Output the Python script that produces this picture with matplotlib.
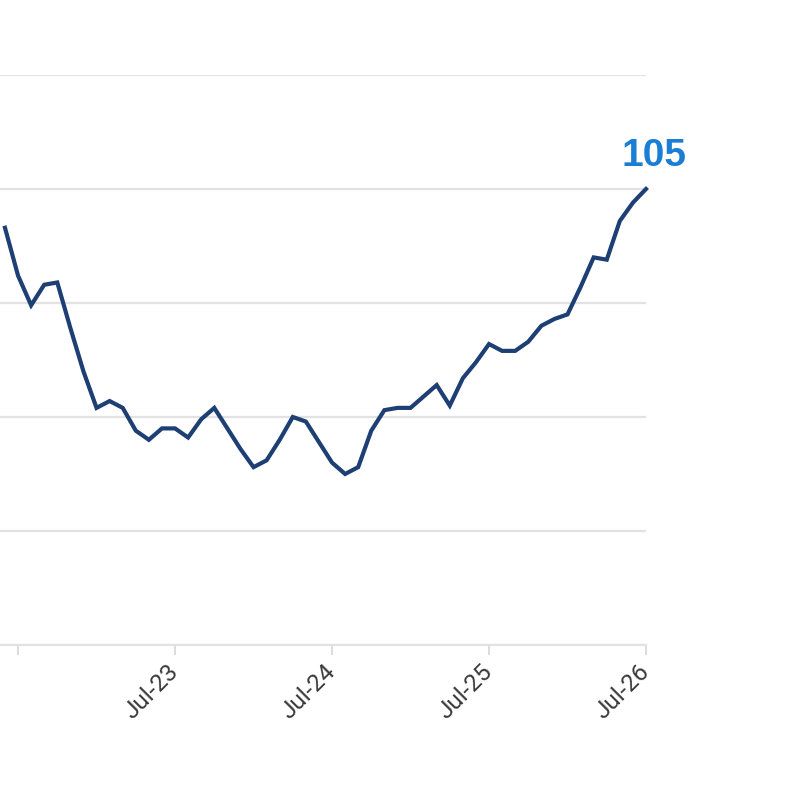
import numpy as np
import matplotlib
matplotlib.use("Agg")
import matplotlib.pyplot as plt

# monthly index values, Jun-22 .. Jul-26
values = [103.3, 101.2, 99.9, 100.8, 100.9, 98.9, 97.0, 95.4, 95.7, 95.4,
          94.4, 94.0, 94.5, 94.5, 94.1, 94.9, 95.4, 94.5, 93.6, 92.8,
          93.1, 94.0, 95.0, 94.8, 93.9, 93.0, 92.5, 92.8, 94.4, 95.3,
          95.4, 95.4, 95.9, 96.4, 95.5, 96.7, 97.4, 98.2, 97.9, 97.9,
          98.3, 99.0, 99.3, 99.5, 100.7, 102.0, 101.9, 103.6, 104.4, 105.0]
tick_pos = [1, 13, 25, 37, 49]
tick_labels = ["", "Jul-23", "Jul-24", "Jul-25", "Jul-26"]
grid_vals = [85, 90, 95, 100, 105, 110]

plt.rcParams['font.family'] = ['Roboto', 'DejaVu Sans']

fig = plt.figure(figsize=(8, 8), dpi=100)
ax = fig.add_axes([0, 1 - 645 / 800, 646 / 800, 570 / 800])

x = np.arange(len(values))
ax.plot(x, values, color="#1d3f74", lw=3.0, solid_joinstyle="miter", zorder=3,
        clip_on=False)

ax.set_xlim(-0.38, len(values) - 1)
ax.set_ylim(85, 110)
ax.set_yticks(grid_vals)
ax.yaxis.grid(True, color="#e2e2e2", lw=1.6)
ax.tick_params(axis="y", left=False, labelleft=False)

ax.set_xticks(tick_pos)
ax.set_xticklabels(tick_labels, rotation=45, ha="right", va="center",
                   rotation_mode="anchor", fontsize=17.5, color="#3a3a3a")
ax.tick_params(axis="x", length=7, width=1.4, color="#dddddd", pad=10)

for s in ["top", "left", "right"]:
    ax.spines[s].set_visible(False)
ax.spines["bottom"].set_color("#e2e2e2")
ax.spines["bottom"].set_linewidth(1.6)
ax.set_axisbelow(True)

ax.annotate(f"{values[-1]:.0f}", (x[-1], values[-1]), xytext=(8, 23),
            textcoords="offset pixels", ha="center", va="baseline",
            fontsize=28, fontweight="bold", color="#1a7fd4",
            family=["Liberation Sans", "DejaVu Sans"], annotation_clip=False)

fig.savefig("out.png", dpi=100)
